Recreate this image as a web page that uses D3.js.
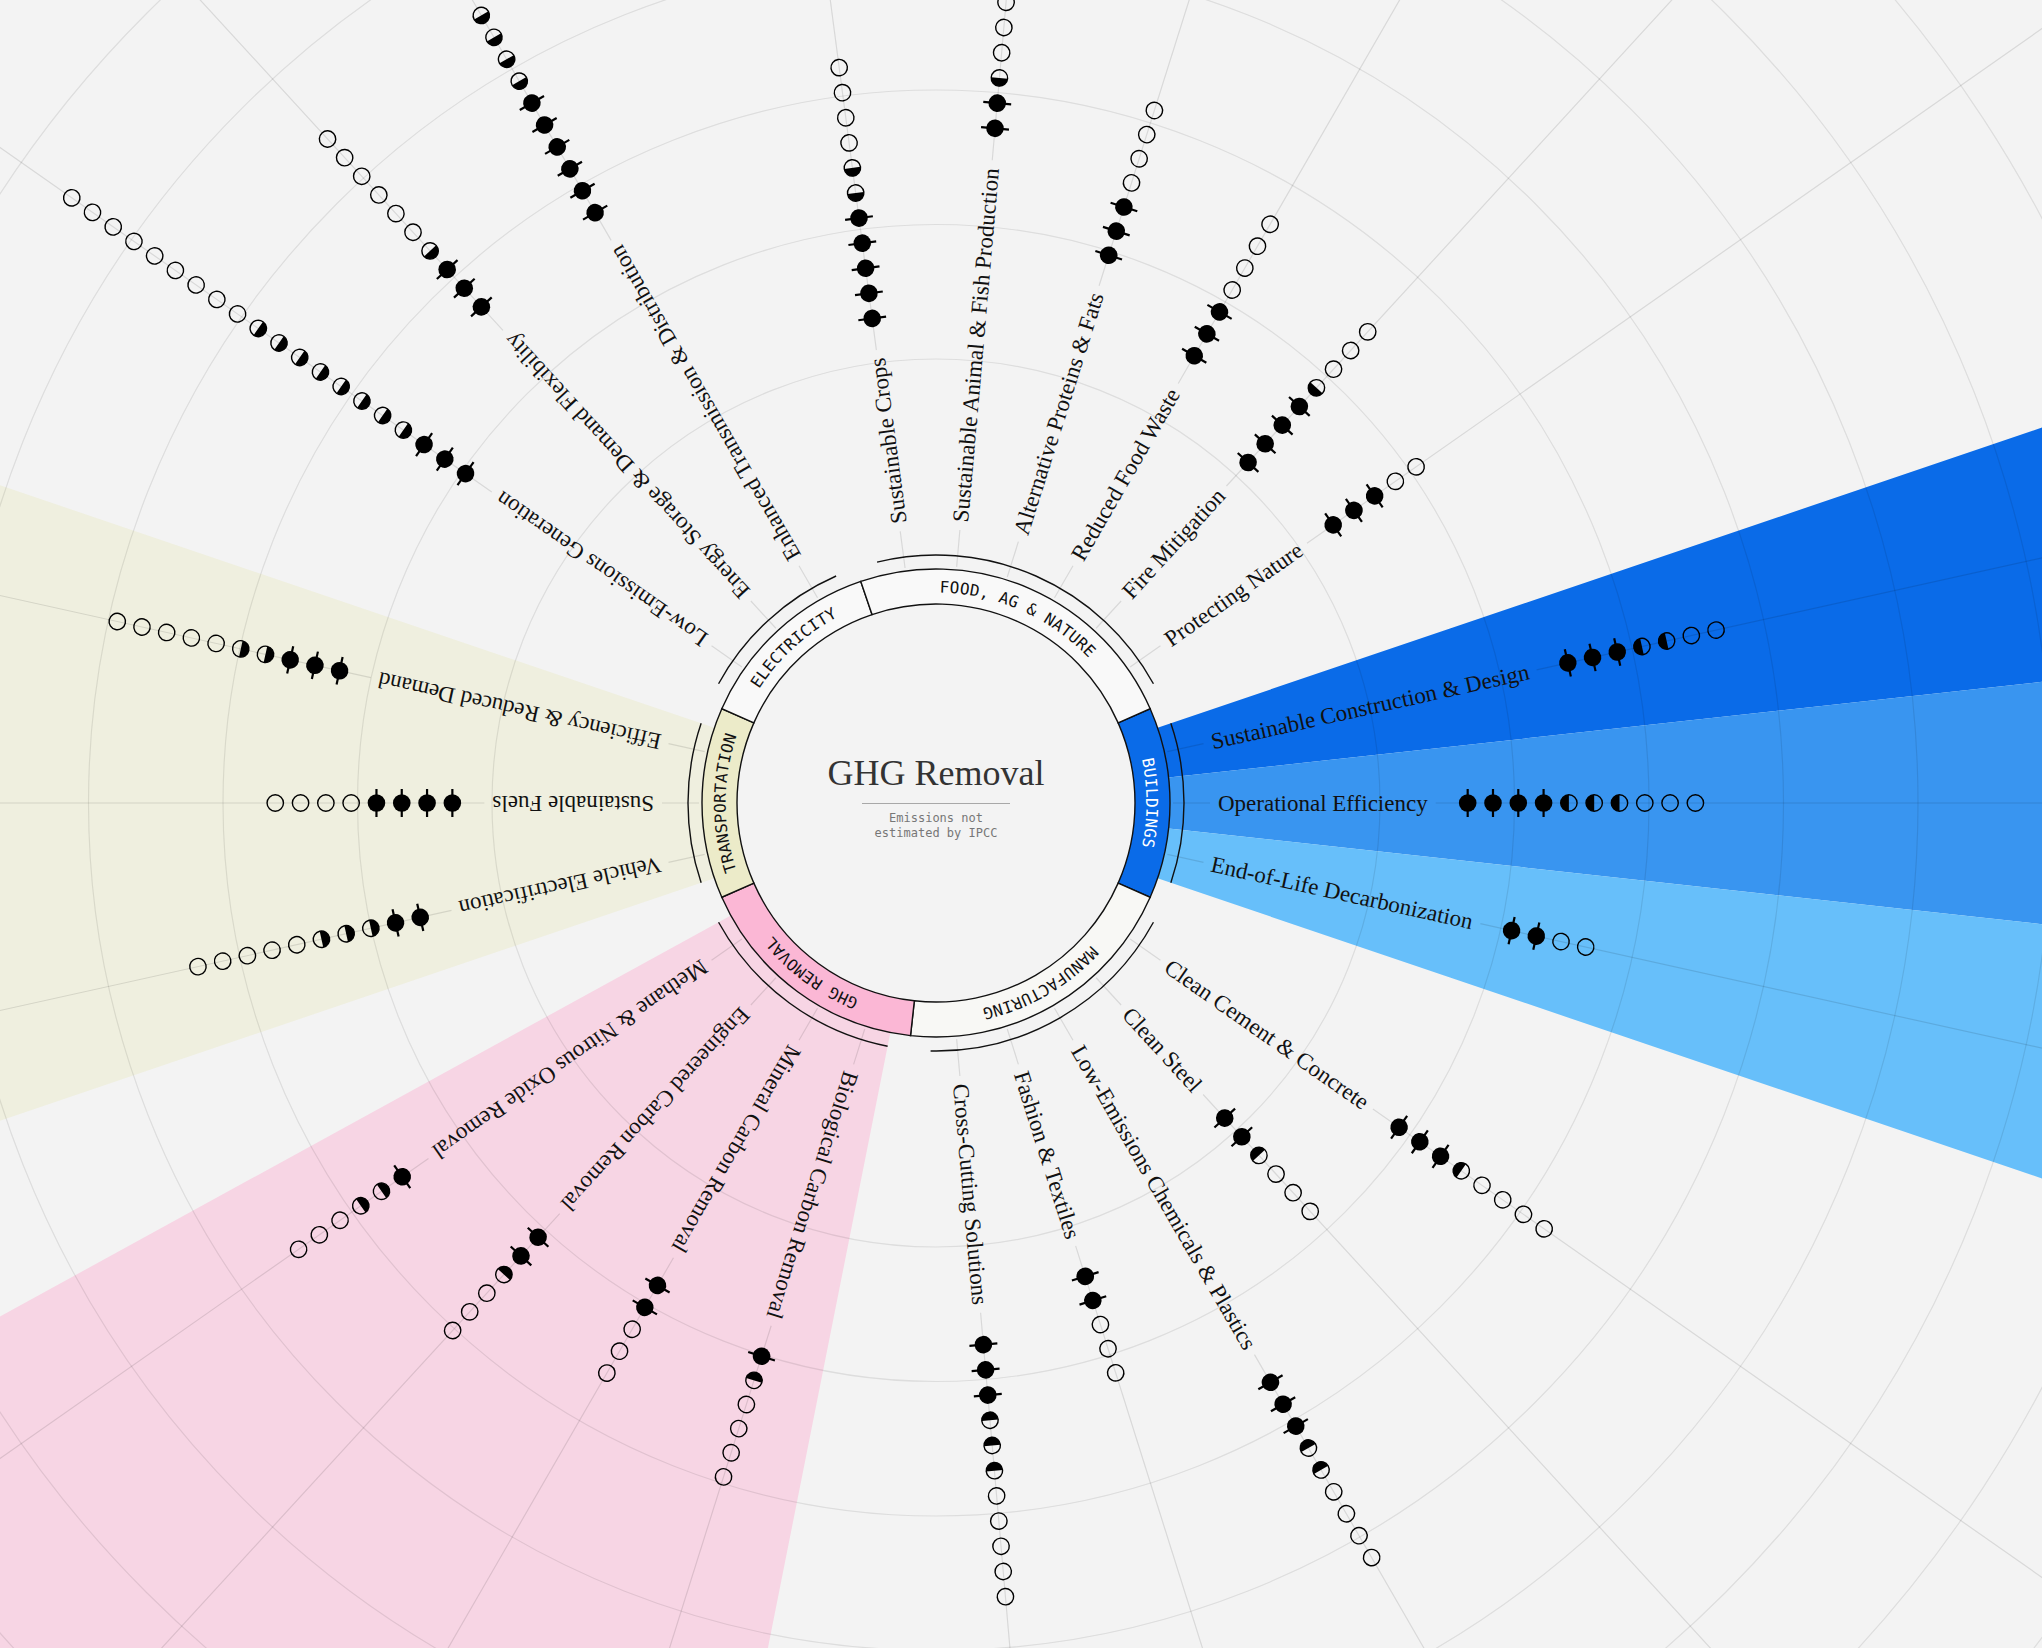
<!DOCTYPE html>
<html><head><meta charset="utf-8">
<script src="https://cdn.jsdelivr.net/npm/d3@7"></script>
<style>html,body{margin:0;padding:0;background:#f3f3f3;overflow:hidden}</style>
</head><body>
<svg id="chart" width="2042" height="1648"></svg>
<script>
// ---------------- DATA ----------------
const sectors = ["BUILDINGS", "MANUFACTURING", "GHG REMOVAL", "TRANSPORTATION", "ELECTRICITY", "FOOD, AG & NATURE"];
const itemLabels = [
  "Sustainable Construction & Design", "Operational Efficiency", "End-of-Life Decarbonization",
  "Clean Cement & Concrete", "Clean Steel", "Low-Emissions Chemicals & Plastics", "Fashion & Textiles", "Cross-Cutting Solutions",
  "Biological Carbon Removal", "Mineral Carbon Removal", "Engineered Carbon Removal", "Methane & Nitrous Oxide Removal",
  "Vehicle Electrification", "Sustainable Fuels", "Efficiency & Reduced Demand",
  "Low-Emissions Generation", "Energy Storage & Demand Flexibility", "Enhanced Transmission & Distribution",
  "Sustainable Crops", "Sustainable Animal & Fish Production", "Alternative Proteins & Fats", "Reduced Food Waste", "Fire Mitigation", "Protecting Nature"
];
const itemSector = [0,0,0, 1,1,1,1,1, 2,2,2,2, 3,3,3, 4,4,4, 5,5,5,5,5,5];
// glyph states along each spoke: 1 = achieved, 0.5 = partial, 0 = open
const itemGlyphs = [
  [1,1,1,0.5,0.5,0,0],
  [1,1,1,1,0.5,0.5,0.5,0,0,0],
  [1,1,0,0],
  [1,1,1,0.5,0,0,0,0],
  [1,1,0.5,0,0,0],
  [1,1,1,0.5,0.5,0,0,0,0],
  [1,1,0,0,0],
  [1,1,1,0.5,0.5,0.5,0,0,0,0,0],
  [1,0.5,0,0,0,0],
  [1,1,0,0,0],
  [1,1,0.5,0,0,0],
  [1,0.5,0.5,0,0,0],
  [1,1,0.5,0.5,0.5,0,0,0,0,0],
  [1,1,1,1,0,0,0,0],
  [1,1,1,0.5,0.5,0,0,0,0,0],
  [1,1,1,0.5,0.5,0.5,0.5,0.5,0.5,0.5,0.5,0,0,0,0,0,0,0,0,0],
  [1,1,1,0.5,0,0,0,0,0,0],
  [1,1,1,1,1,1,0.5,0.5,0.5,0.5],
  [1,1,1,1,1,0.5,0.5,0,0,0,0],
  [1,1,0.5,0,0,0],
  [1,1,1,0,0,0,0],
  [1,1,1,0,0,0,0],
  [1,1,1,1,0.5,0,0,0],
  [1,1,1,0,0]
];
const centerTitle = "GHG Removal";
const centerNote = ["Emissions not", "estimated by IPCC"];

// ---------------- STYLE / LAYOUT ----------------
const W = 2042, H = 1648, cx = 936, cy = 803;
const rInner = 199, rBand = 234, rBracket = 248, rLabel = 282, labelGap = 40, glyphStep = 25.3;
const bandFill = {"BUILDINGS":"#0a6be8","MANUFACTURING":"#f8f8f5","GHG REMOVAL":"#fbb7d5","TRANSPORTATION":"#ecebc9","ELECTRICITY":"#f9f9f9","FOOD, AG & NATURE":"#f9f9f9"};
const bandText = {"BUILDINGS":"#ffffff"};
const sectorWedge = {"GHG REMOVAL":"#f7d5e4","TRANSPORTATION":"#efefdf"};
const itemWedge = {"Sustainable Construction & Design":"#0a6be8","Operational Efficiency":"#3995f0","End-of-Life Decarbonization":"#67bffa"};

const svg = d3.select("#chart");
svg.append("rect").attr("width",W).attr("height",H).attr("fill","#f3f3f3");
const root = svg.append("g").attr("transform",`translate(${cx},${cy})`);

// angular scale: 24 items + a 0.8 item gap between sectors -> 360 degrees
const nUnits = itemLabels.length + 0.8*sectors.length;
const ang = d3.scaleLinear().domain([0, nUnits]).range([-18.75, -18.75 + 360]);
const itemAngle = itemLabels.map((d,i) => ang(i + 0.5 + 0.8*itemSector[i]));
const sectorRange = sectors.map((s,si) => {
  const idx = itemSector.map((v,i)=>v===si?i:-1).filter(i=>i>=0);
  const a = idx[0], b = idx[idx.length-1];
  return {
    band: [ang(a + 0.8*si - 0.4), ang(b + 1 + 0.8*si + 0.4)],
    items: [ang(a + 0.8*si), ang(b + 1 + 0.8*si)]
  };
});
const rad = d => d*Math.PI/180;
const d3a = d => rad(d + 90);  // d3.arc angle (from 12 o'clock)
function arcPath(r, a0, a1){
  const x0 = r*Math.cos(rad(a0)), y0 = r*Math.sin(rad(a0));
  const x1 = r*Math.cos(rad(a1)), y1 = r*Math.sin(rad(a1));
  const large = (a1 - a0) > 180 ? 1 : 0;
  return `M${x0},${y0}A${r},${r} 0 ${large} 1 ${x1},${y1}`;
}

const gWedge = root.append("g");
const gGrid = root.append("g");
const gBand = root.append("g");
const gLabel = root.append("g");
const gGlyph = root.append("g");

// wedges
const wedgeArc = d3.arc().innerRadius(rBand).outerRadius(1600);
sectors.forEach((s,si)=>{
  if (sectorWedge[s]) {
    gWedge.append("path").attr("d", wedgeArc({startAngle:d3a(sectorRange[si].items[0]), endAngle:d3a(sectorRange[si].items[1])}))
      .attr("fill", sectorWedge[s]);
  }
});
itemLabels.forEach((lab,i)=>{
  if (itemWedge[lab]) {
    gWedge.append("path").attr("d", wedgeArc({startAngle:d3a(itemAngle[i]-6.25), endAngle:d3a(itemAngle[i]+6.25)}))
      .attr("fill", itemWedge[lab]);
  }
});

// grid rings
d3.range(444, 1500, 134.5).forEach(r=>{
  gGrid.append("circle").attr("r", r).attr("fill","none").attr("stroke","rgba(0,0,0,0.09)").attr("stroke-width",1.2);
});

// bands
const bandArc = d3.arc().innerRadius(rInner).outerRadius(rBand);
sectors.forEach((s,si)=>{
  const [a0,a1] = sectorRange[si].band;
  gBand.append("path").attr("d", bandArc({startAngle:d3a(a0), endAngle:d3a(a1)}))
    .attr("fill", bandFill[s]).attr("stroke","#111").attr("stroke-width",1.4);
  const pid = "bp"+si;
  gBand.append("path").attr("id",pid).attr("d", arcPath(210.5, a0, a1)).attr("fill","none");
  gBand.append("text").attr("font-family","'DejaVu Sans Mono', monospace").attr("font-size",16)
    .attr("letter-spacing","0.2px").attr("fill", bandText[s] || "#111")
    .append("textPath").attr("href","#"+pid).attr("startOffset","50%").attr("text-anchor","middle").text(s);
  const [b0,b1] = sectorRange[si].items;
  gBand.append("path").attr("d", arcPath(rBracket, b0, b1)).attr("fill","none").attr("stroke","#111").attr("stroke-width",1.4);
});

// labels, spokes, glyphs
itemLabels.forEach((lab,i)=>{
  const th = itemAngle[i];
  const gl = gLabel.append("g").attr("transform",`rotate(${th})`);
  const t = gl.append("text").attr("x", rLabel).attr("y",0).attr("dominant-baseline","central")
    .attr("font-family","'Liberation Serif', 'Times New Roman', serif").attr("font-size",23).attr("fill","#111").text(lab);
  const len = t.node().getComputedTextLength();
  const gs = gGrid.append("g").attr("transform",`rotate(${th})`);
  gs.append("line").attr("x1",rBand+3).attr("x2",rLabel-8).attr("stroke","rgba(0,0,0,0.11)").attr("stroke-width",1.2);
  gs.append("line").attr("x1",rLabel+len+8).attr("x2",2400).attr("stroke","rgba(0,0,0,0.11)").attr("stroke-width",1.2);
  const r0 = rLabel + len + labelGap;
  const rs = d3.scaleLinear().domain([0,1]).range([r0, r0 + glyphStep]);
  const gg = gGlyph.append("g").attr("transform",`rotate(${th})`);
  itemGlyphs[i].forEach((v,k)=>{
    const g = gg.append("g").attr("transform",`translate(${rs(k)},0)`);
    if (v >= 1) {
      g.append("line").attr("x1",0).attr("x2",0).attr("y1",-14).attr("y2",14).attr("stroke","#000").attr("stroke-width",2.2);
      g.append("circle").attr("r",8.8).attr("fill","#000");
    } else {
      if (v > 0) {
        g.append("path").attr("d","M0,-8.2A8.2,8.2 0 0,0 0,8.2Z").attr("fill","#000");
      }
      g.append("circle").attr("r",8.2).attr("fill","none").attr("stroke","#000").attr("stroke-width",1.4);
    }
  });
});

// center
root.append("text").attr("x",0).attr("y",-18).attr("text-anchor","middle")
  .attr("font-family","'Liberation Serif', serif").attr("font-size",36).attr("fill","#333").text(centerTitle);
root.append("line").attr("x1",-74).attr("x2",74).attr("y1",0.5).attr("y2",0.5).attr("stroke","#a8a8a8").attr("stroke-width",1);
centerNote.forEach((s,j)=>{
  root.append("text").attr("x",0).attr("y",19 + j*15).attr("text-anchor","middle")
    .attr("font-family","'DejaVu Sans Mono', monospace").attr("font-size",12).attr("fill","#777").text(s);
});
</script>
</body></html>
